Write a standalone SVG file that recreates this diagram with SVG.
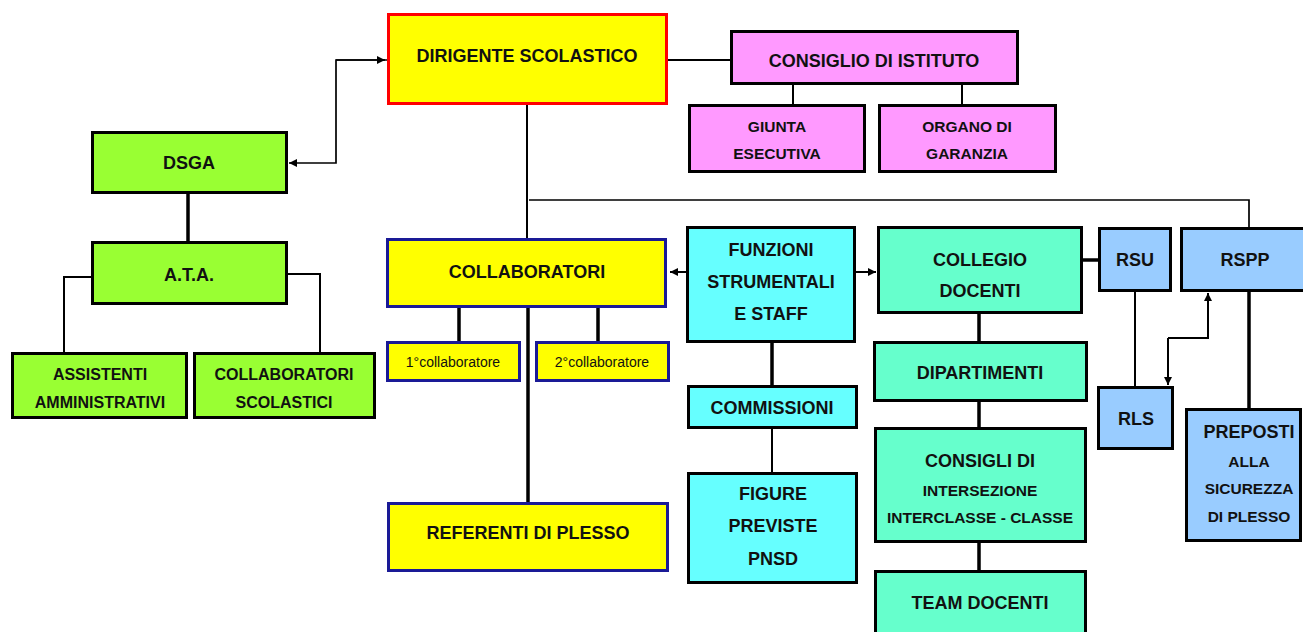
<svg xmlns="http://www.w3.org/2000/svg" width="1303" height="632" viewBox="0 0 1303 632">
<defs>
<style>
text{font-family:"Liberation Sans",Arial,sans-serif;font-weight:bold;fill:#111;text-anchor:middle;font-size:18px}
.s{font-size:15.5px}
.m{font-size:16px}
.r{font-weight:normal;font-size:14px}
.box{stroke:#000;stroke-width:3}
.yel{fill:#ffff00}
.red{stroke:#ff0000}
.blu{stroke:#1a1a96}
.grn{fill:#99ff33}
.pnk{fill:#ff99ff}
.cyn{fill:#66ffff}
.aqu{fill:#66ffcc}
.lbl{fill:#99ccff}
.c{fill:none;stroke:#000;stroke-width:2}
.t{fill:none;stroke:#000;stroke-width:3.5}
.n{fill:none;stroke:#000;stroke-width:1.7}
</style>
<marker id="ah2" viewBox="0 0 10 10" refX="10" refY="5" markerWidth="8" markerHeight="8" orient="auto" markerUnits="userSpaceOnUse">
<path d="M0,0 L10,5 L0,10 z" fill="#000"/>
</marker>
</defs>
<rect width="1303" height="632" fill="#fff"/>

<g id="connectors">
<path class="c" d="M668,60 H731"/>
<path class="c" d="M793,84 V104 M962,84 V104"/>
<path class="n" d="M387,60 H336 V163 H289" marker-end="url(#ah2)"/>
<path class="n" d="M336,60 H385" marker-end="url(#ah2)"/>
<path class="t" d="M188,193 V242"/>
<path class="c" d="M92,277 H64 V353"/>
<path class="c" d="M287,274 H320 V353"/>
<path class="c" d="M527,105 V239"/>
<path class="n" d="M529,200 H1249 V228"/>
<path class="t" d="M459,307 V342 M598,307 V342"/>
<path class="t" d="M528,307 V503"/>
<path class="c" d="M687,272 H670" marker-end="url(#ah2)"/>
<path class="c" d="M855,272 H876" marker-end="url(#ah2)"/>
<path class="t" d="M772,342 V386"/>
<path class="c" d="M772,428 V473"/>
<path class="t" d="M1082,260 H1100"/>
<path class="t" d="M979,313 V342 M979,401 V428 M979,542 V571"/>
<path class="c" d="M1135,291 V387"/>
<path class="t" d="M1249,291 V409"/>
<path class="c" d="M1168,338 H1208 V293" marker-end="url(#ah2)"/>
<path class="c" d="M1168,338 V385" marker-end="url(#ah2)"/>
</g>

<g id="dirigente"><rect class="box yel red" x="388.5" y="14.5" width="278" height="89"/><text x="527" y="62">DIRIGENTE SCOLASTICO</text></g>
<g id="consiglio-istituto"><rect class="box pnk" x="731.5" y="31.5" width="286" height="52"/><text x="874" y="67">CONSIGLIO DI ISTITUTO</text></g>
<g id="giunta"><rect class="box pnk" x="689.5" y="105.5" width="175" height="66"/><text class="s" x="777" y="132">GIUNTA</text><text class="s" x="777" y="159">ESECUTIVA</text></g>
<g id="organo"><rect class="box pnk" x="879.5" y="105.5" width="176" height="66"/><text class="s" x="967" y="132">ORGANO DI</text><text class="s" x="967" y="159">GARANZIA</text></g>

<g id="dsga"><rect class="box grn" x="92.5" y="132.5" width="194" height="60"/><text x="189" y="169">DSGA</text></g>
<g id="ata"><rect class="box grn" x="92.5" y="242.5" width="194" height="61"/><text x="189" y="281">A.T.A.</text></g>
<g id="assistenti"><rect class="box grn" x="12.5" y="353.5" width="174" height="64"/><text class="m" x="100" y="380">ASSISTENTI</text><text class="m" x="100" y="408">AMMINISTRATIVI</text></g>
<g id="collab-scolastici"><rect class="box grn" x="194.5" y="353.5" width="180" height="64"/><text class="m" x="284" y="380">COLLABORATORI</text><text class="m" x="284" y="408">SCOLASTICI</text></g>

<g id="collaboratori"><rect class="box yel blu" x="387.5" y="239.5" width="278" height="67"/><text x="527" y="278">COLLABORATORI</text></g>
<g id="primo"><rect class="box yel blu" x="387.5" y="342.5" width="132" height="38"/><text class="r" x="453" y="367">1°collaboratore</text></g>
<g id="secondo"><rect class="box yel blu" x="536.5" y="342.5" width="132" height="38"/><text class="r" x="602" y="367">2°collaboratore</text></g>
<g id="referenti"><rect class="box yel blu" x="388.5" y="503.5" width="279" height="67"/><text x="528" y="539">REFERENTI DI PLESSO</text></g>

<g id="funzioni"><rect class="box cyn" x="687.5" y="227.5" width="167" height="114"/><text x="771" y="256">FUNZIONI</text><text x="771" y="288">STRUMENTALI</text><text x="771" y="320">E STAFF</text></g>
<g id="commissioni"><rect class="box cyn" x="688.5" y="386.5" width="168" height="41"/><text x="772" y="414">COMMISSIONI</text></g>
<g id="figure"><rect class="box cyn" x="688.5" y="473.5" width="168" height="109"/><text x="773" y="500">FIGURE</text><text x="773" y="532">PREVISTE</text><text x="773" y="565">PNSD</text></g>

<g id="collegio"><rect class="box aqu" x="878.5" y="227.5" width="203" height="85"/><text x="980" y="266">COLLEGIO</text><text x="980" y="297">DOCENTI</text></g>
<g id="dipartimenti"><rect class="box aqu" x="874.5" y="342.5" width="212" height="58"/><text x="980" y="379">DIPARTIMENTI</text></g>
<g id="consigli"><rect class="box aqu" x="875.5" y="428.5" width="210" height="113"/><text x="980" y="467">CONSIGLI DI</text><text class="s" x="980" y="496">INTERSEZIONE</text><text class="s" x="980" y="523">INTERCLASSE - CLASSE</text></g>
<g id="team"><rect class="box aqu" x="875.5" y="571.5" width="210" height="70"/><text x="980" y="609">TEAM DOCENTI</text></g>

<g id="rsu"><rect class="box lbl" x="1099.5" y="228.5" width="71" height="62"/><text x="1135" y="266">RSU</text></g>
<g id="rspp"><rect class="box lbl" x="1181.5" y="228.5" width="128" height="62"/><text x="1245" y="266">RSPP</text></g>
<g id="rls"><rect class="box lbl" x="1098.5" y="387.5" width="74" height="61"/><text x="1136" y="425">RLS</text></g>
<g id="preposti"><rect class="box lbl" x="1186.5" y="409.5" width="114" height="131"/><text x="1249" y="438">PREPOSTI</text><text class="s" x="1249" y="467">ALLA</text><text class="s" x="1249" y="494">SICUREZZA</text><text class="s" x="1249" y="522">DI PLESSO</text></g>
</svg>
